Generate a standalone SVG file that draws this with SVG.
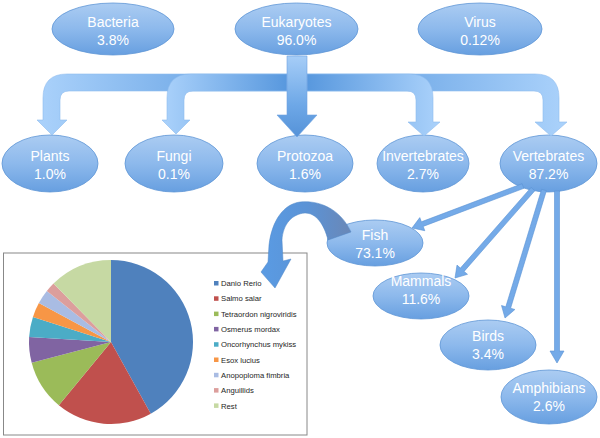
<svg xmlns="http://www.w3.org/2000/svg" width="600" height="438" viewBox="0 0 600 438">
<defs>
<linearGradient id="nodeFill" x1="0" y1="0" x2="0" y2="1">
<stop offset="0" stop-color="#abccf2"/>
<stop offset="0.5" stop-color="#8db9ec"/>
<stop offset="1" stop-color="#679fe0"/>
</linearGradient>
<linearGradient id="bandL" x1="1" y1="0" x2="0" y2="0">
<stop offset="0" stop-color="#5898de"/>
<stop offset="1" stop-color="#abd2fb"/>
</linearGradient>
<linearGradient id="bandR" x1="0" y1="0" x2="1" y2="0">
<stop offset="0" stop-color="#5898de"/>
<stop offset="1" stop-color="#abd2fb"/>
</linearGradient>
<linearGradient id="shaftV" x1="0" y1="0" x2="0" y2="1">
<stop offset="0" stop-color="#a6cdf7"/>
<stop offset="0.6" stop-color="#6ea8e7"/>
<stop offset="1" stop-color="#5592d8"/>
</linearGradient>
<linearGradient id="fishArrow" gradientUnits="userSpaceOnUse" x1="262" y1="0" x2="352" y2="0">
<stop offset="0" stop-color="#5a9be3"/>
<stop offset="0.5" stop-color="#5b93d6"/>
<stop offset="1" stop-color="#6a87b6"/>
</linearGradient>
<style>
.node ellipse{fill:url(#nodeFill);stroke:#5e96d6;stroke-width:0.8}
.node text{font-family:"Liberation Sans",Arial,sans-serif;font-size:14px;fill:#ffffff;text-anchor:middle}
.band{stroke:#8fbcef;stroke-width:0.6}
.thin{fill:#74aae8;stroke:#5a92d4;stroke-width:0.6}
.leg{font-family:"Liberation Sans",Arial,sans-serif;font-size:7.7px;fill:#262626}
</style>
</defs>

<g id="pie-chart">
<rect x="3.5" y="253" width="303.5" height="182" fill="#ffffff" stroke="#888888" stroke-width="1"/>
<path d="M111 342 L111 260 A82 82 0 0 1 150.76 413.72 Z" fill="#4f81bd"/>
<path d="M111 342 L150.76 413.72 A82 82 0 0 1 58.84 405.27 Z" fill="#c0504d"/>
<path d="M111 342 L58.84 405.27 A82 82 0 0 1 31.68 362.81 Z" fill="#9bbb59"/>
<path d="M111 342 L31.68 362.81 A82 82 0 0 1 29.15 336.99 Z" fill="#8064a2"/>
<path d="M111 342 L29.15 336.99 A82 82 0 0 1 32.93 316.93 Z" fill="#4bacc6"/>
<path d="M111 342 L32.93 316.93 A82 82 0 0 1 38.87 303 Z" fill="#f79646"/>
<path d="M111 342 L38.87 303 A82 82 0 0 1 46.83 290.95 Z" fill="#a9bce3"/>
<path d="M111 342 L46.83 290.95 A82 82 0 0 1 53.53 283.51 Z" fill="#dc9e9c"/>
<path d="M111 342 L53.53 283.51 A82 82 0 0 1 111 260 Z" fill="#c6d9a3"/>
<g id="legend">
<rect x="214" y="281" width="4.5" height="4.5" fill="#4f81bd"/><text class="leg" x="221" y="286.1">Danio Rerio</text>
<rect x="214" y="296.3" width="4.5" height="4.5" fill="#c0504d"/><text class="leg" x="221" y="301.4">Salmo salar</text>
<rect x="214" y="311.6" width="4.5" height="4.5" fill="#9bbb59"/><text class="leg" x="221" y="316.7">Tetraordon nigroviridis</text>
<rect x="214" y="326.9" width="4.5" height="4.5" fill="#8064a2"/><text class="leg" x="221" y="332">Osmerus mordax</text>
<rect x="214" y="342.2" width="4.5" height="4.5" fill="#4bacc6"/><text class="leg" x="221" y="347.3">Oncorhynchus mykiss</text>
<rect x="214" y="357.5" width="4.5" height="4.5" fill="#f79646"/><text class="leg" x="221" y="362.6">Esox lucius</text>
<rect x="214" y="372.8" width="4.5" height="4.5" fill="#a9bce3"/><text class="leg" x="221" y="377.9">Anopoploma fimbria</text>
<rect x="214" y="388.1" width="4.5" height="4.5" fill="#dc9e9c"/><text class="leg" x="221" y="393.2">Anguillids</text>
<rect x="214" y="403.4" width="4.5" height="4.5" fill="#c6d9a3"/><text class="leg" x="221" y="408.5">Rest</text>
</g>
</g>

<g id="node-bacteria" class="node"><ellipse cx="113" cy="29" rx="61" ry="26"/><text x="113" y="26.5">Bacteria</text><text x="113" y="45">3.8%</text></g>
<g id="node-eukaryotes" class="node"><ellipse cx="296.5" cy="29" rx="61.5" ry="26"/><text x="296.5" y="26.5">Eukaryotes</text><text x="296.5" y="45">96.0%</text></g>
<g id="node-virus" class="node"><ellipse cx="480" cy="29" rx="62" ry="26"/><text x="480" y="26.5">Virus</text><text x="480" y="45">0.12%</text></g>
<g id="node-plants" class="node"><ellipse cx="50" cy="163.5" rx="48" ry="28.5"/><text x="50" y="160.5">Plants</text><text x="50" y="179">1.0%</text></g>
<g id="node-fungi" class="node"><ellipse cx="174" cy="163.5" rx="49" ry="28.5"/><text x="174" y="160.5">Fungi</text><text x="174" y="179">0.1%</text></g>
<g id="node-protozoa" class="node"><ellipse cx="305" cy="163.5" rx="48" ry="28.5"/><text x="305" y="160.5">Protozoa</text><text x="305" y="179">1.6%</text></g>
<g id="node-invertebrates" class="node"><ellipse cx="423" cy="163.5" rx="46" ry="28.5"/><text x="423" y="160.5">Invertebrates</text><text x="423" y="179">2.7%</text></g>
<g id="node-vertebrates" class="node"><ellipse cx="548.5" cy="163.5" rx="48.5" ry="28.5"/><text x="548.5" y="160.5">Vertebrates</text><text x="548.5" y="179">87.2%</text></g>
<g id="node-fish" class="node"><ellipse cx="375" cy="243" rx="48" ry="23"/><text x="375" y="240">Fish</text><text x="375" y="258">73.1%</text></g>
<g id="node-mammals" class="node"><ellipse cx="421" cy="296" rx="48" ry="23"/><text x="421" y="286">Mammals</text><text x="421" y="304">11.6%</text></g>
<g id="node-birds" class="node"><ellipse cx="488" cy="345" rx="48" ry="25"/><text x="488" y="341">Birds</text><text x="488" y="359">3.4%</text></g>
<g id="node-amphibians" class="node"><ellipse cx="549" cy="397" rx="48" ry="27"/><text x="549" y="393">Amphibians</text><text x="549" y="411">2.6%</text></g>

<g id="connectors">
<path class="band" fill="url(#bandL)" d="M287 74 L67 74 Q43 74 43 98 L43 120 L37 120 L52 135 L67 120 L60 120 L60 100 Q60 91 69 91 L287 91 Z"/>
<path class="band" fill="url(#bandL)" d="M287 74 L191 74 Q167 74 167 98 L167 120 L162 120 L176 134 L190 120 L184 120 L184 100 Q184 91 193 91 L287 91 Z"/>
<path class="band" fill="url(#bandR)" d="M307 74 L535 74 Q559 74 559 98 L559 122 L567 122 L551 136 L535 122 L543 122 L543 100 Q543 91 534 91 L307 91 Z"/>
<path class="band" fill="url(#bandR)" d="M307 74 L409 74 Q433 74 433 98 L433 122 L440 122 L424 136 L408 122 L416 122 L416 100 Q416 91 407 91 L307 91 Z"/>
<path fill="url(#shaftV)" stroke="#6ea3e0" stroke-width="0.6" d="M287 56 L307 56 L307 115 L317 115 L297 137 L277 115 L287 115 Z"/>
<path class="thin" d="M522.1 183.7 L421.4 221.8 L419.8 217.6 L412 228 L424.8 230.7 L423.2 226.4 L523.9 188.3 Z"/>
<path class="thin" d="M531.1 187.4 L460.4 268.1 L457 265.1 L455 278 L467.5 274.3 L464.1 271.4 L534.9 190.7 Z"/>
<path class="thin" d="M541.6 189.3 L505.8 306.8 L501.5 305.5 L505 318 L514.9 309.5 L510.6 308.2 L546.4 190.7 Z"/>
<path class="thin" d="M554.5 191 L554.5 351 L550 351 L557 363 L564 351 L559.5 351 L559.5 191 Z"/>
<path fill="url(#fishArrow)" stroke="#4f86c6" stroke-width="0.5" d="M351 232 C340 208 318 200 300 202 C284 204 272 220 269 245 L268 262 L261 272 L275 288 L291 259 L283 261 L282 240 C283 224 292 214 305 213 C316 213 324 224 328 240 Z"/>
</g>
</svg>
